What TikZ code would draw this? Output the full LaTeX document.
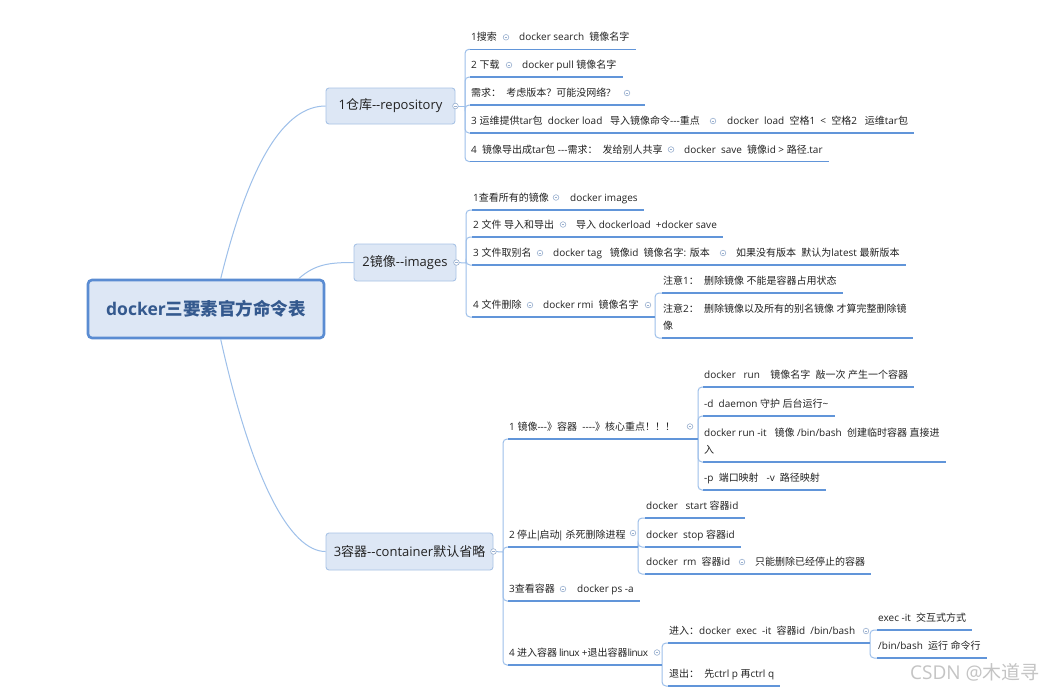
\documentclass[tikz,border=0pt]{standalone}
\usepackage{fontspec}
\setmainfont{Open Sans}
\newfontfamily\latinfont{Open Sans}
\newfontfamily\cjkfont{Noto Sans CJK SC}
\XeTeXinterchartokenstate=1
\newXeTeXintercharclass\cjkcls
\makeatletter
\count@="2E80
\loop \XeTeXcharclass\count@=\cjkcls \ifnum\count@<"9FFF \advance\count@\@ne \repeat
\count@="F900
\loop \XeTeXcharclass\count@=\cjkcls \ifnum\count@<"FAFF \advance\count@\@ne \repeat
\count@="FE30
\loop \XeTeXcharclass\count@=\cjkcls \ifnum\count@<"FE4F \advance\count@\@ne \repeat
\count@="FF00
\loop \XeTeXcharclass\count@=\cjkcls \ifnum\count@<"FFEF \advance\count@\@ne \repeat
\makeatother
\XeTeXinterchartoks 0 \cjkcls = {\begingroup\cjkfont}
\XeTeXinterchartoks \cjkcls 0 = {\endgroup}
\XeTeXinterchartoks 4095 \cjkcls = {\begingroup\cjkfont}
\XeTeXinterchartoks \cjkcls 4095 = {\endgroup}
\usetikzlibrary{calc}
\definecolor{nfill}{HTML}{DDE7F5}
\definecolor{nborder}{HTML}{A8C3E6}
\definecolor{rborder}{HTML}{5A8CD2}
\definecolor{rtext}{HTML}{34598E}
\definecolor{connc}{HTML}{9EC0EA}
\definecolor{ulinec}{HTML}{6195D9}
\definecolor{mkc}{HTML}{98AFCF}
\definecolor{txt}{HTML}{222222}
\definecolor{wmc}{HTML}{C4C4C4}
\tikzset{
 rootbox/.style={draw=rborder, line width=2.6pt, fill=nfill, rounded corners=4pt, minimum width=236pt, minimum height=58pt, inner sep=0pt, font=\latinfont\fontsize{17.5}{20}\selectfont\bfseries, text=rtext},
 mainbox/.style={draw=nborder, line width=0.9pt, fill=nfill, rounded corners=3pt, inner sep=0pt, font=\latinfont\fontsize{13}{15}\selectfont, text=txt},
 leaf/.style={anchor=south west, inner xsep=1pt, inner ysep=4pt, text height=8pt, text depth=4.3pt, font=\latinfont\fontsize{10}{17}\selectfont, text=txt, align=left},
 tightleaf/.style={leaf, font=\latinfont\fontsize{10}{17}\selectfont\addfontfeatures{LetterSpace=-5}},
 conn/.style={draw=connc, line width=1pt},
 spine/.style={draw=connc, line width=1pt, rounded corners=4pt},
 uline/.style={draw=ulinec, line width=1.5pt},
 mk/.style={circle, draw=mkc, fill=white, line width=0.6pt, minimum size=5.6pt, inner sep=0pt,
   path picture={\draw[mkc, line width=0.6pt] ([xshift=-1.4pt]path picture bounding box.center) -- ([xshift=1.4pt]path picture bounding box.center);}},
 wmark/.style={font=\latinfont\fontsize{19}{21}\selectfont, text=wmc, anchor=west, inner sep=0pt}
}
\begin{document}
\begin{tikzpicture}[x=1pt,y=-1pt]
\fill[white] (0,0) rectangle (1052,689);
\useasboundingbox (0,0) rectangle (1052,689);

% root and main nodes
\node[rootbox] (root) at (206,309) {docker三要素官方命令表};
\node[mainbox, minimum width=129pt, minimum height=36pt] (m1) at (390.5,106) {1仓库-{}-repository};
\node[mainbox, minimum width=102pt, minimum height=37pt] (m2) at (405,262.5) {2镜像-{}-images};
\node[mainbox, minimum width=167pt, minimum height=37pt] (m3) at (409.5,551.5) {3容器-{}-container默认省略};

\draw[conn] ([xshift=134pt]root.north west) .. controls (250,160) and (285,106) .. (m1.west);
\draw[conn] ([xshift=212pt]root.north west) .. controls (315,264) and (330,262.5) .. (m2.west);
\draw[conn] ([xshift=134pt]root.south west) .. controls (252,480) and (290,551.5) .. (m3.west);

% ---------- 1 repository ----------
\coordinate (s1) at (465,106);
\node[leaf] (a1) at (470,49.3) {1搜索};
\node[leaf] (a1g) at (518,49.3) {docker search~~镜像名字};
\node[leaf] (a2) at (470,77) {2 下载};
\node[leaf] (a2g) at (521,77) {docker pull 镜像名字};
\node[leaf] (a3) at (470,105) {需求：~~考虑版本？可能没网络?};
\coordinate (a3e) at (645,105);
\node[leaf] (a4) at (470,133) {3 运维提供tar包~~docker load~~~导入镜像命令-{}-{}-重点};
\node[leaf] (a4g) at (726,133) {docker~~load~~空格1~~<~~空格2~~~运维tar包};
\node[leaf] (a5) at (470,161.5) {4~~镜像导出成tar包 -{}-{}-需求：~~发给别人共享};
\node[leaf] (a5g) at (683,161.5) {docker~~save~~镜像id > 路径.tar};

\draw[conn] (m1.east) -- (s1);
\foreach \n in {a1,a2,a3,a4,a5} \draw[spine] (s1) |- (\n.south west);
\draw[uline] (a1.south west) -- ([xshift=5pt]a1g.south east);
\draw[uline] (a2.south west) -- ([xshift=5pt]a2g.south east);
\draw[uline] (a3.south west) -- (a3e);
\draw[uline] (a4.south west) -- ([xshift=5pt]a4g.south east);
\draw[uline] (a5.south west) -- ([xshift=5pt]a5g.south east);

% ---------- 2 images ----------
\coordinate (s2) at (466,263);
\node[leaf] (b1) at (472,210) {1查看所有的镜像};
\node[leaf] (b1g) at (569,210) {docker images};
\node[leaf] (b2) at (472,237) {2 文件 导入和导出};
\node[leaf] (b2g) at (575,237) {导入 dockerload~~+docker save};
\node[leaf] (b3) at (472,265) {3 文件取别名};
\node[leaf] (b3g) at (552,265) {docker tag~~~镜像id~~镜像名字: 版本};
\node[leaf] (b3h) at (735,265) {如果没有版本~~默认为latest 最新版本};
\node[leaf] (b4) at (472,317) {4 文件删除};
\node[leaf] (b4g) at (542,317) {docker rmi~~镜像名字};
\coordinate (s2b) at (655,317);
\node[leaf] (b4a) at (662,293) {注意1：~~删除镜像 不能是容器占用状态};
\node[leaf] (b4b) at (662,338) {注意2：~~删除镜像以及所有的别名镜像 才算完整删除镜\\像};

\draw[conn] (m2.east) -- (s2);
\foreach \n in {b1,b2,b3,b4} \draw[spine] (s2) |- (\n.south west);
\foreach \n in {b4a,b4b} \draw[spine] (s2b) |- (\n.south west);
\draw[uline] (b1.south west) -- ([xshift=5pt]b1g.south east);
\draw[uline] (b2.south west) -- ([xshift=5pt]b2g.south east);
\draw[uline] (b3.south west) -- ([xshift=5pt]b3h.south east);
\draw[uline] (b4.south west) -- (s2b);
\draw[uline] (b4a.south west) -- ([xshift=5pt]b4a.south east);
\draw[uline] (b4b.south west) -- ([xshift=5pt]b4b.south east);

% ---------- 3 container ----------
\coordinate (s3) at (503,552);
\node[leaf] (c1) at (508,439) {1 镜像-{}-{}-》容器~~-{}-{}-{}-》核心重点！！！};
\coordinate (s3a) at (698,439);
\node[leaf] (c1a) at (703,387) {docker~~~run~~~~镜像名字~~敲一次 产生一个容器};
\node[leaf] (c1b) at (703,416) {-d~~daemon 守护 后台运行\textasciitilde};
\node[leaf] (c1c) at (703,462) {docker run -it~~~镜像 /bin/bash~~创建临时容器 直接进\\入};
\node[leaf] (c1d) at (703,490) {-p~~端口映射~~~-v~~路径映射};
\node[tightleaf] (c2) at (508,547) {2 停止\kern-1.5pt|\kern-1.5pt启动\kern-1.5pt|~杀死删除进程};
\coordinate (s3b) at (638,547);
\node[leaf] (c2a) at (645,518) {docker~~~start 容器id};
\node[leaf] (c2b) at (645,547) {docker~~stop 容器id};
\node[leaf] (c2c) at (645,574) {docker~~rm~~容器id};
\node[leaf] (c2cg) at (754,574) {只能删除已经停止的容器};
\node[leaf] (c3) at (508,601) {3查看容器};
\node[leaf] (c3g) at (576,601) {docker ps -a};
\node[tightleaf] (c4) at (508,665) {4 进入容器 linux +退出容器linux};
\coordinate (s3d) at (662,665);
\node[leaf] (c4a) at (668,643) {进入：docker~~exec~~-it~~容器id~~/bin/bash};
\coordinate (s3e) at (870,643);
\node[leaf] (c4a1) at (877,630) {exec -it~~交互式方式};
\node[leaf] (c4a2) at (877,658) {/bin/bash~~运行 命令行};
\node[leaf] (c4b) at (668,686) {退出：~~先ctrl p 再ctrl q};

\draw[conn] (m3.east) -- (s3);
\foreach \n in {c1,c2,c3,c4} \draw[spine] (s3) |- (\n.south west);
\foreach \n in {c1a,c1b,c1c,c1d} \draw[spine] (s3a) |- (\n.south west);
\foreach \n in {c2a,c2b,c2c} \draw[spine] (s3b) |- (\n.south west);
\foreach \n in {c4a,c4b} \draw[spine] (s3d) |- (\n.south west);
\foreach \n in {c4a1,c4a2} \draw[spine] (s3e) |- (\n.south west);
\draw[uline] (c1.south west) -- (s3a);
\foreach \n in {c1a,c1b,c1c,c1d,c2a,c2b,c4b,c4a1,c4a2} \draw[uline] (\n.south west) -- ([xshift=5pt]\n.south east);
\draw[uline] (c2.south west) -- (s3b);
\draw[uline] (c2c.south west) -- ([xshift=5pt]c2cg.south east);
\draw[uline] (c3.south west) -- ([xshift=5pt]c3g.south east);
\draw[uline] (c4.south west) -- (s3d);
\draw[uline] (c4a.south west) -- (s3e);

% ---------- collapse markers ----------
\node[mk] (k1) at (m1.east) {};
\node[mk] (k2) at (m2.east) {};
\node[mk] (k3) at (m3.east) {};
\node[mk] (ka1) at (506,37.3) {};
\node[mk] (ka2) at (509,65) {};
\node[mk] (ka3) at (627,93) {};
\node[mk] (ka4) at (713,121) {};
\node[mk] (ka5) at (671,149.5) {};
\node[mk] (kb1) at (556,197.5) {};
\node[mk] (kb2) at (563,224.5) {};
\node[mk] (kb3) at (540,253) {};
\node[mk] (kb3b) at (723,253) {};
\node[mk] (kb4) at (530,305) {};
\node[mk] (kb4b) at (648,305) {};
\node[mk] (kc1) at (690,426.5) {};
\node[mk] (kc2) at (633,533) {};
\node[mk] (kc2c) at (742,562) {};
\node[mk] (kc3) at (563,589) {};
\node[mk] (kc4) at (657,652.5) {};
\node[mk] (kc4a) at (866,631) {};

\node[wmark] (wm) at (910,672) {CSDN @木道寻};
\end{tikzpicture}
\end{document}
